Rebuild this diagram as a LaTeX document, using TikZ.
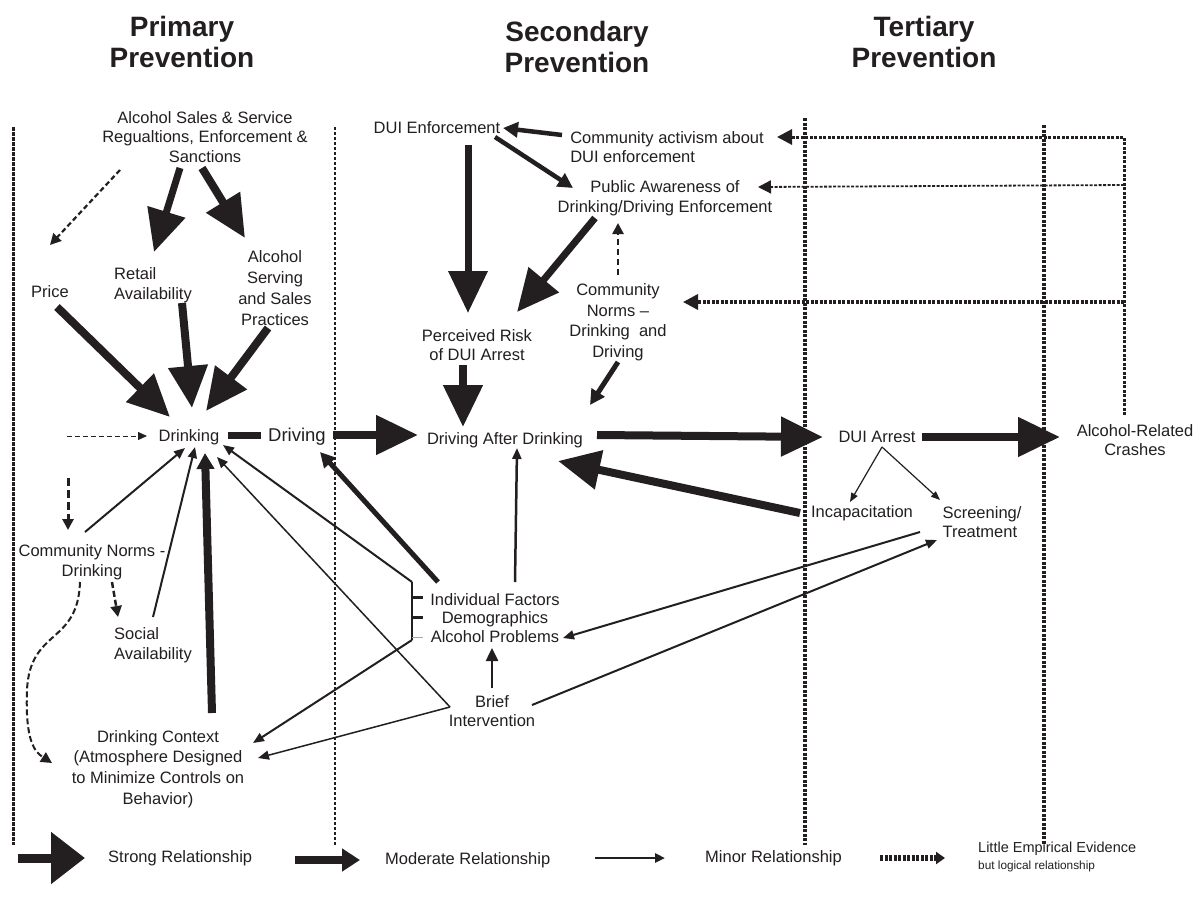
\documentclass[tikz,border=0pt]{standalone}
\usepackage{fontspec}
\setmainfont{Liberation Sans}
\usetikzlibrary{arrows.meta,calc}
\definecolor{ink}{RGB}{35,31,32}
\newcommand\setfs[2]{\fontsize{#1}{#2}\selectfont}
\begin{document}
\begin{tikzpicture}[x=1pt,y=-1pt,
  txt/.style={font=\setfs{16.5}{19.5}, text=ink, inner sep=0pt, align=center},
  hdr/.style={font=\bfseries\setfs{28}{31}, text=ink, inner sep=0pt, align=center},
  strongarr/.style={draw=ink, line width=8pt, -{Triangle[length=42pt,width=38pt]}},
  modarr/.style={draw=ink, line width=4.5pt, -{Triangle[length=15pt,width=15pt]}},
  minorarr/.style={draw=ink, line width=2pt, -{Triangle[length=11pt,width=9pt]}},
  thinarr/.style={draw=ink, line width=1.2pt, -{Triangle[length=9pt,width=7pt]}},
  dasharr/.style={draw=ink, line width=2.5pt, dash pattern=on 6pt off 3pt, -{Triangle[length=11pt,width=11pt]}},
  dotarr/.style={draw=ink, line width=3pt, dash pattern=on 3pt off 1.5pt, -{Triangle[length=15pt,width=15pt]}},
  divA/.style={draw=ink, line width=3pt, dash pattern=on 3.5pt off 1.5pt},
  divB/.style={draw=ink, line width=1.8pt, dash pattern=on 2.5pt off 2.5pt},
  divC/.style={draw=ink, line width=3.8pt, dash pattern=on 3pt off 1.5pt}]
\useasboundingbox[fill=white] (0,0) rectangle (1200,905);

% column dividers
\draw[divA] (13,127) -- (13,845);
\draw[divB] (335,127) -- (335,845);
\draw[divC] (805,118) -- (805,845);
\draw[divC] (1044,125) -- (1044,845);

% headers
\node[hdr] (h1) at (182,42) {Primary\\Prevention};
\node[hdr] (h2) at (577,47) {Secondary\\Prevention};
\node[hdr] (h3) at (924,42) {Tertiary\\Prevention};

% nodes - primary
\node[txt] (sales) at (205,137) {Alcohol Sales \& Service\\Regualtions, Enforcement \&\\Sanctions};
\node[txt] (price) at (50,292) {Price};
\node[txt, align=left] (retail) at (153,285) {Retail\\Availability};
\node[txt, font=\setfs{16.5}{21}] (serving) at (275,288) {Alcohol\\Serving\\and Sales\\Practices};
\node[txt] (drinking) at (189,437) {Drinking};
\node[txt, font=\setfs{18.5}{20}] (driving) at (297,437) {Driving};
\node[txt] (cnormsd) at (92,562) {Community Norms -\\Drinking};
\node[txt, align=left] (social) at (153,645) {Social\\Availability};
\node[txt, font=\setfs{16.5}{20.7}] (context) at (158,769) {Drinking Context\\(Atmosphere Designed\\to Minimize Controls on\\Behavior)};

% nodes - secondary
\node[txt] (duienf) at (437,128) {DUI Enforcement};
\node[txt, align=left] (activism) at (667,147) {Community activism about\\DUI enforcement};
\node[txt] (aware) at (665,198) {Public Awareness of\\Drinking/Driving Enforcement};
\node[txt] (perceived) at (477,345) {Perceived Risk\\of DUI Arrest};
\node[txt, font=\setfs{16.5}{20.5}] (cnormsdd) at (618,322) {Community\\Norms --\\Drinking~ and\\Driving};
\node[txt] (dad) at (505,440) {Driving After Drinking};
\node[txt, font=\setfs{16.5}{18.5}] (indiv) at (495,618) {Individual Factors\\Demographics\\Alcohol Problems};
\node[txt, font=\setfs{16.5}{18.5}] (brief) at (492,711) {Brief\\Intervention};

% nodes - tertiary
\node[txt] (duiarrest) at (877,437) {DUI Arrest};
\node[txt] (incap) at (862,513) {Incapacitation};
\node[txt, align=left, font=\setfs{16.5}{19}] (screening) at (982,522) {Screening/\\Treatment};
\node[txt] (crashes) at (1135,440) {Alcohol-Related\\Crashes};

% free ends
\coordinate (din) at (67,436);
\coordinate (dtop) at (68,478);

% primary connectors
\draw[dasharr, line width=2.2pt, dash pattern=on 5pt off 3pt] ($(sales)+(-85,33)$) -- ($(price)+(0,-47)$);
\draw[strongarr, line width=7pt] ($(sales)+(-25,31)$) -- ($(retail)+(1,-33)$);
\draw[strongarr, line width=8pt] ($(sales)+(-3,31)$) -- ($(serving)+(-30,-50)$);
\draw[strongarr] ($(price)+(7,15)$) -- ($(drinking)+(-19,-20)$);
\draw[strongarr] ($(retail)+(29,18)$) -- ($(drinking)+(3,-29)$);
\draw[strongarr] ($(serving)+(-7,40)$) -- ($(drinking)+(17,-26)$);
\draw[draw=ink, line width=1pt, dash pattern=on 5pt off 3pt, -{Triangle[length=9pt,width=8pt]}] (din) -- ($(drinking)+(-42,-1)$);
\draw[draw=ink, line width=7pt] ($(drinking)+(39,-2)$) -- ($(driving)+(-36,-2)$);
\draw[strongarr] ($(driving)+(36,-2)$) -- ($(dad)+(-87,-5)$);
\draw[minorarr] ($(cnormsd)+(-7,-30)$) -- ($(drinking)+(-4,11)$);
\draw[minorarr] ($(social)+(0,-28)$) -- ($(drinking)+(6,10)$);
\draw[draw=ink, line width=8pt, -{Triangle[length=16pt,width=17pt]}] ($(context)+(54,-56)$) -- ($(drinking)+(16,16)$);
\draw[dasharr, line width=3pt, dash pattern=on 8pt off 4pt] (dtop) -- ($(cnormsd)+(-24,-32)$);
\draw[dasharr] ($(cnormsd)+(20,20)$) -- ($(social)+(-35,-28)$);
\draw[dasharr, line width=2pt, dash pattern=on 6pt off 3pt] ($(cnormsd)+(-12,20)$) .. controls (78,645) and (30,628) .. (27,690) .. controls (25,742) and (35,752) .. ($(context)+(-106,-6)$);

% secondary connectors
\draw[modarr] ($(activism)+(-105,-12)$) -- ($(duienf)+(66,0)$);
\draw[modarr] ($(duienf)+(58,9)$) -- ($(aware)+(-92,-10)$);
\draw[strongarr, line width=7pt] ($(duienf)+(31,17)$) -- ($(perceived)+(-9,-32)$);
\draw[strongarr, line width=7pt] ($(aware)+(-70,20)$) -- ($(perceived)+(40,-33)$);
\draw[dasharr, line width=2.5pt, dash pattern=on 6pt off 4pt] ($(cnormsdd)+(0,-47)$) -- ($(aware)+(-47,25)$);
\draw[strongarr] ($(perceived)+(-14,20)$) -- ($(dad)+(-42,-13)$);
\draw[modarr, line width=5pt] ($(cnormsdd)+(0,40)$) -- ($(dad)+(85,-35)$);
\draw[minorarr, line width=2.5pt] ($(indiv)+(20,-36)$) -- ($(dad)+(12,8)$);
\draw[modarr, line width=5pt] ($(indiv)+(-57,-36)$) -- ($(driving)+(23,15)$);
% bracket
\draw[draw=ink, line width=2pt] ($(indiv)+(-83,-36)$) -- ($(indiv)+(-83,22)$);
\draw[draw=ink, line width=3pt] ($(indiv)+(-83,-21)$) -- ($(indiv)+(-72,-21)$);
\draw[draw=ink, line width=3pt] ($(indiv)+(-83,-1)$) -- ($(indiv)+(-72,-1)$);
\draw[draw=ink!40, line width=0.8pt] ($(indiv)+(-83,19)$) -- ($(indiv)+(-72,19)$);
\draw[minorarr] ($(indiv)+(-83,-36)$) -- ($(drinking)+(34,8)$);
\draw[minorarr] ($(indiv)+(-83,22)$) -- ($(context)+(95,-26)$);
\draw[minorarr, line width=1.5pt] ($(brief)+(-42,-4)$) -- ($(drinking)+(28,20)$);
\draw[minorarr, line width=1.5pt] ($(brief)+(-42,-4)$) -- ($(context)+(100,-11)$);
\draw[minorarr, line width=2.5pt, -{Triangle[length=13pt,width=12pt]}] ($(brief)+(0,-23)$) -- ($(indiv)+(-3,30)$);
\draw[minorarr, line width=2pt] ($(brief)+(40,-6)$) -- ($(screening)+(-45,18)$);
\draw[minorarr, line width=2pt] ($(screening)+(-62,10)$) -- ($(indiv)+(68,20)$);

% tertiary connectors
\draw[strongarr] ($(dad)+(92,-5)$) -- ($(duiarrest)+(-54,0)$);
\draw[strongarr] ($(duiarrest)+(45,0)$) -- ($(crashes)+(-75,-3)$);
\draw[thinarr] ($(duiarrest)+(5,10)$) -- ($(incap)+(-12,-11)$);
\draw[thinarr] ($(duiarrest)+(5,10)$) -- ($(screening)+(-42,-22)$);
\draw[strongarr] ($(incap)+(-62,0)$) -- ($(dad)+(53,21)$);

% little-evidence feedback from crashes
\draw[dotarr] ($(crashes)+(-11,-25)$) |- ($(activism)+(110,-10)$);
\draw[dotarr, line width=1.8pt, -{Triangle[length=13pt,width=13pt]}] ($(crashes)+(-11,-255)$) -- ($(aware)+(93,-11)$);
\draw[dotarr, line width=3.3pt] ($(crashes)+(-11,-138)$) -- ($(cnormsdd)+(65,-20)$);

% legend
\node[txt, anchor=west] (lg1) at (108,858) {Strong Relationship};
\node[txt, anchor=west] (lg2) at (385,860) {Moderate Relationship};
\node[txt, anchor=west] (lg3) at (705,858) {Minor Relationship};
\node[txt, anchor=west, font=\setfs{14.5}{17}] (lg4) at (978,849) {Little Empirical Evidence};
\node[txt, anchor=west, font=\setfs{11.8}{14}] (lg5) at (978,866) {but logical relationship};
\draw[draw=ink, line width=9pt, -{Triangle[length=34pt,width=50pt]}] ($(lg1.west)+(-90,0)$) -- ($(lg1.west)+(-23,0)$);
\draw[draw=ink, line width=8pt, -{Triangle[length=18pt,width=22pt]}] ($(lg2.west)+(-90,0)$) -- ($(lg2.west)+(-25,0)$);
\draw[draw=ink, line width=2.5pt, -{Triangle[length=10pt,width=9pt]}] ($(lg3.west)+(-110,0)$) -- ($(lg3.west)+(-40,0)$);
\draw[draw=ink, line width=6pt, dash pattern=on 3pt off 1.5pt, -{Triangle[length=9pt,width=12pt]}] ($(lg4.west)+(-98,9)$) -- ($(lg4.west)+(-33,9)$);
\end{tikzpicture}
\end{document}
